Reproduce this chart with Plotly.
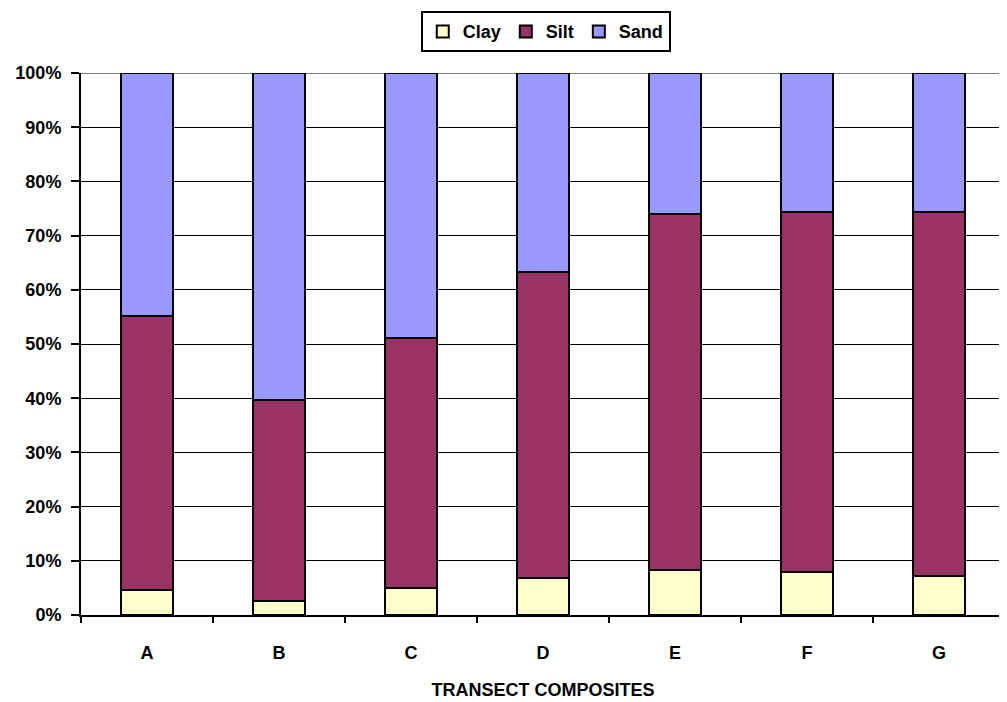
import plotly.graph_objects as go

categories = ["A", "B", "C", "D", "E", "F", "G"]
clay = [4.6, 2.5, 5.0, 6.9, 8.3, 7.9, 7.2]
clay_silt_top = [55.2, 39.7, 51.1, 63.3, 74.0, 74.3, 74.3]
silt = [round(t - c, 2) for t, c in zip(clay_silt_top, clay)]
sand = [round(100 - t, 2) for t in clay_silt_top]

series = [("Clay", clay, "#FFFFCC"), ("Silt", silt, "#993366"), ("Sand", sand, "#9999FF")]

fig = go.Figure()
for name, vals, col in series:
    fig.add_trace(go.Bar(x=categories, y=vals, name=name, width=0.4,
                         marker=dict(color=col, line=dict(color="black", width=2))))

# top border of plot area drawn in grey
fig.add_shape(type="line", xref="paper", yref="y", x0=0, x1=1, y0=100, y1=100,
              line=dict(color="#808080", width=2), layer="between")

font = dict(family="Arial, Liberation Sans, sans-serif", color="black", weight="bold")
fig.update_layout(
    barmode="stack",
    width=999, height=694,
    margin=dict(l=73, r=2, t=65, b=87, autoexpand=False),
    plot_bgcolor="white", paper_bgcolor="white",
    showlegend=True,
    legend=dict(orientation="h", x=0.503, xanchor="center", y=1.114, yanchor="top",
                bordercolor="black", borderwidth=2, font=dict(size=18, **font),
                itemwidth=30, tracegroupgap=0, traceorder="normal"),
    xaxis=dict(showline=True, linecolor="black", linewidth=2, ticks="outside",
               tickson="boundaries", ticklen=6, tickwidth=2, tickcolor="black",
               tickfont=dict(size=18, **font), ticklabelstandoff=20,
               title=dict(text="TRANSECT COMPOSITES", font=dict(size=18, **font), standoff=22)),
    yaxis=dict(range=[0, 100], dtick=10, ticksuffix="%", showline=True, linecolor="black",
               linewidth=2, showgrid=True, gridcolor="black", gridwidth=1,
               ticks="outside", ticklen=8, tickwidth=2, tickcolor="black",
               tickfont=dict(size=18, **font), ticklabelstandoff=6),
)
fig.write_html("out.html")
